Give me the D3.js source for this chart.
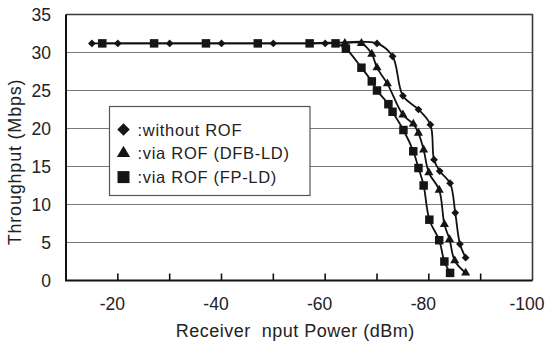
<!DOCTYPE html>
<html>
<head>
<meta charset="utf-8">
<script src="https://cdn.jsdelivr.net/npm/d3@7"></script>
<style>
  body { margin: 0; background: #fff; }
  svg { display: block; font-family: "Liberation Sans", Arial, sans-serif; }
</style>
</head>
<body>
<div id="chart"></div>
<script>
// Data
var seriesNames = ["without ROF", "via ROF (DFB-LD)", "via ROF (FP-LD)"];

var powerNoRof = [-15, -20, -30, -40, -50, -60, -70, -73, -75, -78, -80.3, -81, -82.1, -84.1, -85.1, -86, -87.1];
var thrNoRof   = [31.2, 31.2, 31.2, 31.2, 31.2, 31.2, 31.2, 29.5, 24.3, 22.5, 20.5, 15.9, 14.4, 12.8, 8.9, 4.8, 3.0];

var powerDfb = [-63.8, -67, -69, -70, -72, -75, -77, -78, -79, -80, -82, -83, -84, -85, -87.1];
var thrDfb   = [31.2, 31.2, 29.8, 28.0, 25.9, 21.8, 20.6, 19.4, 17.2, 14.2, 11.9, 7.4, 5.4, 2.6, 1.0];

var powerFp = [-17, -27, -37, -47, -57, -62, -64, -67, -69, -70, -72.2, -73, -75.1, -77, -78, -79, -80.1, -82, -83, -84.1];
var thrFp   = [31.2, 31.2, 31.2, 31.2, 31.2, 31.2, 30.5, 28.0, 26.2, 25.0, 23.2, 22.2, 19.8, 17.0, 14.8, 12.5, 8.0, 5.3, 2.5, 1.0];

var xTicks = [-20, -30, -40, -50, -60, -70, -80, -90];
var xLabels = [-20, -40, -60, -80, -100];
var yTicks = [0, 5, 10, 15, 20, 25, 30, 35];

// Set the dimensions and margins of the graph
var margin = { top: 14.5, right: 12.5, bottom: 62.5, left: 66 },
    width = 545 - margin.left - margin.right,
    height = 343 - margin.top - margin.bottom;

var svg = d3.select("#chart")
  .append("svg")
    .attr("width", width + margin.left + margin.right)
    .attr("height", height + margin.top + margin.bottom)
  .append("g")
    .attr("transform", "translate(" + margin.left + "," + margin.top + ")");

var x = d3.scaleLinear().domain([-10, -100]).range([0, width]);
var y = d3.scaleLinear().domain([0, 35]).range([height, 0]);

// gridlines
svg.append("g")
  .selectAll("line")
  .data(yTicks.filter(function (d) { return d > 0 && d < 35; }))
  .enter()
  .append("line")
    .attr("x1", 0)
    .attr("x2", width)
    .attr("y1", function (d) { return y(d); })
    .attr("y2", function (d) { return y(d); })
    .style("stroke", "#7a7a7a")
    .style("stroke-width", 1.2);

// top and right border
svg.append("path")
  .attr("d", "M0," + y(35) + "H" + width + "V" + height)
  .style("fill", "none")
  .style("stroke", "#3a3a3a")
  .style("stroke-width", 1.6);

// Y axis
var yAxis = svg.append("g")
  .call(d3.axisLeft(y).tickValues(yTicks).tickSize(0).tickPadding(15));
yAxis.select(".domain").remove();
yAxis.selectAll("text")
  .style("font-size", "17.5px")
  .style("fill", "#222");

// X axis with inward ticks
var xAxis = svg.append("g")
  .attr("transform", "translate(0," + height + ")")
  .call(d3.axisBottom(x).tickValues(xLabels).tickSize(0).tickPadding(17)
    .tickFormat(function (d) { return String(d); }));
xAxis.select(".domain").remove();
xAxis.selectAll("text")
  .attr("dx", -6)
  .style("font-size", "17.5px")
  .style("fill", "#222");

svg.append("g")
  .selectAll("line")
  .data(xTicks)
  .enter()
  .append("line")
    .attr("x1", function (d) { return x(d); })
    .attr("x2", function (d) { return x(d); })
    .attr("y1", height)
    .attr("y2", height - 7)
    .style("stroke", "#111")
    .style("stroke-width", 1.6);

// left and bottom axis lines
svg.append("path")
  .attr("d", "M0," + y(35) + "V" + height + "H" + width)
  .style("fill", "none")
  .style("stroke", "#111")
  .style("stroke-width", 2);

// series
var series = [
  { name: seriesNames[0], px: powerNoRof, ty: thrNoRof, shape: "diamond" },
  { name: seriesNames[1], px: powerDfb, ty: thrDfb, shape: "triangle" },
  { name: seriesNames[2], px: powerFp, ty: thrFp, shape: "square" }
];

function marker(shape, big) {
  if (shape === "diamond") return d3.symbol().type(d3.symbolSquare).size(big ? 78 : 30)();
  if (shape === "triangle") return d3.symbol().type(d3.symbolTriangle).size(big ? 76 : 36)();
  return d3.symbol().type(d3.symbolSquare).size(big ? 144 : 72)();
}

var line = d3.line()
  .x(function (d) { return x(d[0]); })
  .y(function (d) { return y(d[1]); })
  .curve(d3.curveCatmullRom.alpha(0.5));

series.forEach(function (s) {
  var pts = s.px.map(function (p, i) { return [p, s.ty[i]]; });
  svg.append("path")
    .datum(pts)
    .attr("d", line)
    .style("fill", "none")
    .style("stroke", "#111")
    .style("stroke-width", 1.8);
});

series.forEach(function (s) {
  var pts = s.px.map(function (p, i) { return [p, s.ty[i]]; });
  svg.append("g")
    .selectAll("path")
    .data(pts)
    .enter()
    .append("path")
      .attr("d", marker(s.shape, false))
      .attr("transform", function (d) {
        return "translate(" + x(d[0]) + "," + y(d[1]) + ")" + (s.shape === "diamond" ? " rotate(45)" : "");
      })
      .style("fill", "#151515");
});

// legend
var lg = svg.append("g").attr("transform", "translate(" + (109.5 - margin.left) + "," + (106.5 - margin.top) + ")");
lg.append("rect")
  .attr("width", 200.5)
  .attr("height", 89)
  .style("fill", "#fff")
  .style("stroke", "#555")
  .style("stroke-width", 1.2);

series.forEach(function (s, i) {
  var cy = 23 + i * 23.8;
  lg.append("path")
    .attr("d", marker(s.shape, true))
    .attr("transform", "translate(14," + cy + ")" + (s.shape === "diamond" ? " rotate(45)" : ""))
    .style("fill", "#151515");
  lg.append("text")
    .attr("x", 28)
    .attr("y", cy + 6)
    .style("font-size", "16.5px")
    .style("letter-spacing", "0.7px")
    .style("fill", "#222")
    .text(":" + s.name);
});

// X-axis label
svg.append("text")
  .attr("x", width / 2 - 4)
  .attr("y", height + 56)
  .style("text-anchor", "middle")
  .style("font-size", "18px")
  .style("letter-spacing", "0.5px")
  .style("white-space", "pre")
  .style("fill", "#222")
  .text("Receiver  nput Power (dBm)");

// Y-axis label
svg.append("text")
  .attr("transform", "rotate(-90)")
  .attr("x", -(162 - margin.top))
  .attr("y", 20.5 - margin.left)
  .style("text-anchor", "middle")
  .style("font-size", "18px")
  .style("letter-spacing", "0.8px")
  .style("fill", "#222")
  .text("Throughput (Mbps)");
</script>
</body>
</html>
